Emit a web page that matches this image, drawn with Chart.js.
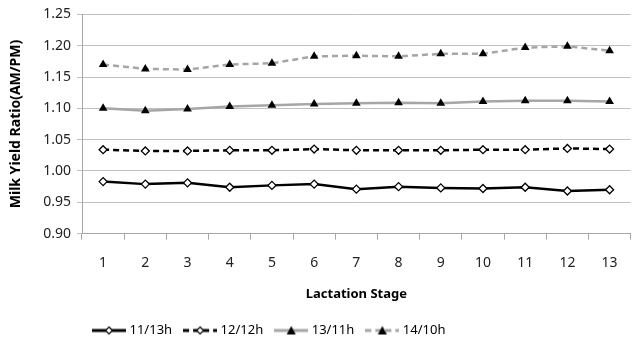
<!DOCTYPE html>
<html>
<head>
<meta charset="utf-8">
<script src="https://cdn.jsdelivr.net/npm/chart.js@4.4.0/dist/chart.umd.min.js"></script>
<style>
  html, body { margin: 0; padding: 0; background: #fff; }
  #wrap { width: 636px; height: 350px; }
</style>
</head>
<body>
<div id="wrap"><canvas id="milkChart"></canvas></div>
<script>
// valeurs
const stages = ['1', '2', '3', '4', '5', '6', '7', '8', '9', '10', '11', '12', '13'];
const h11_13 = [0.983, 0.979, 0.981, 0.974, 0.977, 0.979, 0.971, 0.975, 0.973, 0.972, 0.974, 0.968, 0.970];
const h12_12 = [1.034, 1.032, 1.032, 1.033, 1.033, 1.035, 1.033, 1.033, 1.033, 1.034, 1.034, 1.036, 1.035];
const h13_11 = [1.100, 1.096, 1.099, 1.103, 1.105, 1.107, 1.108, 1.109, 1.108, 1.111, 1.112, 1.112, 1.111];
const h14_10 = [1.170, 1.163, 1.162, 1.170, 1.172, 1.183, 1.184, 1.183, 1.187, 1.187, 1.197, 1.199, 1.192];
const yTicks = [0.90, 0.95, 1.00, 1.05, 1.10, 1.15, 1.20, 1.25];

const FONT = "'Noto Sans', 'DejaVu Sans', sans-serif";
const GRAY = '#a6a6a6';

// petit dessin ligne + marqueur pour la légende
function legendIcon(color, dash, marker) {
  const c = document.createElement('canvas');
  c.width = 34; c.height = 12;
  const g = c.getContext('2d');
  g.strokeStyle = color;
  g.lineWidth = 3;
  g.setLineDash(dash);
  g.beginPath(); g.moveTo(0, 6); g.lineTo(34, 6); g.stroke();
  g.setLineDash([]);
  if (marker === 'diamond') {
    g.fillStyle = '#fff'; g.strokeStyle = '#000'; g.lineWidth = 1.2;
    g.beginPath(); g.moveTo(17, 2.5); g.lineTo(20.5, 6); g.lineTo(17, 9.5); g.lineTo(13.5, 6); g.closePath();
    g.fill(); g.stroke();
  } else {
    g.fillStyle = '#000';
    g.beginPath(); g.moveTo(17, 1.5); g.lineTo(21.5, 10); g.lineTo(12.5, 10); g.closePath(); g.fill();
  }
  return c;
}

const series = [
  { label: '11/13h', data: h11_13, color: '#000', dash: [], marker: 'diamond' },
  { label: '12/12h', data: h12_12, color: '#000', dash: [6, 4], marker: 'diamond' },
  { label: '13/11h', data: h13_11, color: GRAY, dash: [], marker: 'triangle' },
  { label: '14/10h', data: h14_10, color: GRAY, dash: [6, 4], marker: 'triangle' }
];

// la légende de l'original n'est pas centrée : on la décale à gauche
const legendShift = {
  id: 'legendShift',
  afterLayout: chart => { chart.legend.left = 81; }
};

const ctx = document.getElementById('milkChart').getContext('2d');
new Chart(ctx, {
  type: 'line',
  data: {
    labels: stages,
    datasets: series.map(s => ({
      label: s.label,
      data: s.data,
      borderColor: s.color,
      borderWidth: 2.5,
      borderDash: s.dash,
      tension: 0,
      fill: false,
      pointStyle: s.marker === 'diamond' ? 'rectRot' : 'triangle',
      pointRadius: s.marker === 'diamond' ? 4 : 5,
      pointBackgroundColor: s.marker === 'diamond' ? '#fff' : '#000',
      pointBorderColor: '#000',
      pointBorderWidth: s.marker === 'diamond' ? 1.3 : 0,
      icon: legendIcon(s.color, s.dash, s.marker)
    }))
  },
  plugins: [legendShift],
  options: {
    responsive: true,
    maintainAspectRatio: false,
    animation: false,
    layout: { padding: { left: 0, right: 0, top: 6, bottom: 3 } },
    plugins: {
      tooltip: { enabled: false },
      legend: {
        position: 'bottom',
        align: 'start',
        labels: {
          usePointStyle: true,
          pointStyleWidth: 28,
          padding: 14,
          color: '#000',
          font: { family: FONT, size: 13 },
          generateLabels: chart => chart.data.datasets.map((d, i) => ({
            text: d.label,
            pointStyle: d.icon,
            fillStyle: d.borderColor,
            strokeStyle: d.borderColor,
            lineWidth: 0,
            datasetIndex: i,
            hidden: false,
            fontColor: '#000'
          }))
        }
      }
    },
    scales: {
      x: {
        offset: true,
        grid: {
          offset: true,
          drawOnChartArea: false,
          color: GRAY,
          tickLength: 6
        },
        border: { color: GRAY },
        ticks: { color: '#222', font: { family: FONT, size: 14 }, padding: 15 },
        title: {
          display: true,
          text: 'Lactation Stage',
          color: '#000',
          font: { family: FONT, size: 13, weight: 'bold' },
          padding: { top: 0, bottom: 8 }
        }
      },
      y: {
        min: 0.90,
        max: 1.25,
        afterBuildTicks: axis => { axis.ticks = yTicks.map(v => ({ value: v })); },
        afterFit: axis => { axis.width = 82; },
        grid: { color: '#c0c0c0', tickLength: 5, lineWidth: 1 },
        border: { color: GRAY },
        ticks: {
          color: '#222',
          font: { family: FONT, size: 14 },
          padding: 6,
          callback: v => Number(v).toFixed(2)
        },
        title: {
          display: true,
          text: 'Milk Yield Ratio(AM/PM)',
          color: '#000',
          font: { family: FONT, size: 14, weight: 'bold' },
          padding: { top: 8, bottom: 3 }
        }
      }
    }
  }
});
</script>
</body>
</html>
